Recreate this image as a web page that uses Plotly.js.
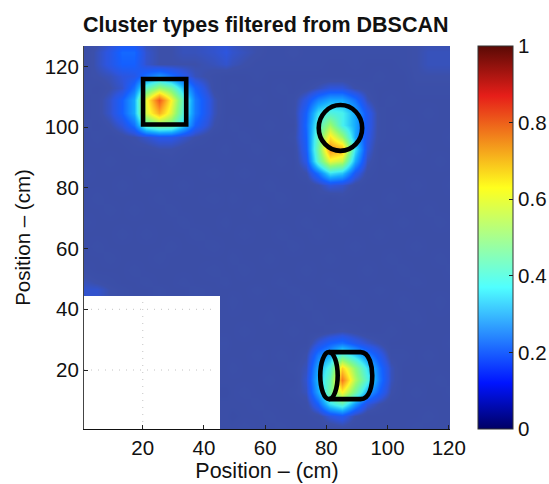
<!DOCTYPE html>
<html><head><meta charset="utf-8">
<script src="https://cdn.plot.ly/plotly-3.0.1.min.js"></script>
<style>html,body{margin:0;padding:0;background:#fff}</style></head>
<body><div id="chart" style="width:549px;height:484px"></div>
<script>
const N = null;
const positionX = [1.2,5.2,9.2,13.2,17.2,21.2,25.2,29.2,33.2,37.2,43.2,47.2,49.2,53.2,57.2,61.2,65.2,69.2,73.2,77.2,81.2,85.2,89.2,93.2,97.2,101.2,105.2,109.2,113.2,117.2,121.2];
const positionY = [0.8,4.8,8.8,12.8,16.8,20.8,24.8,28.8,32.8,36.8,42.8,46.8,48.8,52.8,56.8,60.8,64.8,68.8,72.8,76.8,80.8,84.8,88.8,92.8,96.8,100.8,104.8,108.8,112.8,116.8,120.8,124.8,128.8];
const densityPct = [
[N,N,N,N,N,N,N,N,N,N,N,13,13,14,13,13,14,13,13,13,13,14,13,13,13,13,13,14,13,13,13],
[N,N,N,N,N,N,N,N,N,N,N,13,12,13,13,14,13,13,13,14,18,20,15,13,13,13,13,13,14,13,13],
[N,N,N,N,N,N,N,N,N,N,N,13,13,13,14,13,13,13,14,22,36,42,28,18,15,13,13,13,13,13,13],
[N,N,N,N,N,N,N,N,N,N,N,12,13,14,13,13,13,14,16,30,46,62,46,30,22,15,13,14,13,13,14],
[N,N,N,N,N,N,N,N,N,N,N,13,13,13,13,14,13,13,17,32,44,76,54,40,25,16,13,13,13,14,13],
[N,N,N,N,N,N,N,N,N,N,N,13,14,13,13,13,13,14,16,30,40,66,50,36,24,16,13,13,13,13,13],
[N,N,N,N,N,N,N,N,N,N,N,13,13,13,14,13,14,13,15,25,30,42,34,26,20,14,14,13,14,13,13],
[N,N,N,N,N,N,N,N,N,N,N,14,13,13,13,13,13,13,13,18,22,24,20,17,15,13,13,13,13,13,14],
[N,N,N,N,N,N,N,N,N,N,N,13,13,14,13,13,13,14,13,13,14,15,14,13,13,14,13,13,13,13,13],
[N,N,N,N,N,N,N,N,N,N,N,13,13,13,13,14,13,13,13,14,13,13,13,13,13,13,13,14,13,13,13],
[N,N,N,N,N,N,N,N,N,N,N,13,14,13,13,13,13,13,14,13,13,13,14,13,13,13,14,13,13,14,13],
[17,17,15,14,13,13,14,13,13,14,13,13,13,13,14,13,13,14,13,13,13,14,13,13,14,13,13,13,13,13,13],
[16,15,14,13,13,14,13,13,14,13,13,14,13,13,13,13,14,13,13,13,14,13,13,13,13,13,13,14,13,13,13],
[14,13,13,13,14,13,13,13,13,13,14,13,13,14,13,13,13,13,14,13,13,13,13,14,13,13,14,13,13,13,14],
[13,13,14,13,13,13,14,13,13,13,13,13,14,13,13,14,13,13,13,13,14,13,13,13,13,14,13,13,13,14,13],
[13,14,13,13,13,13,13,14,13,13,14,13,13,13,13,13,13,14,13,13,13,13,14,13,13,13,13,14,13,13,13],
[13,13,13,14,13,14,13,13,13,14,13,13,13,14,13,13,14,13,13,14,13,13,13,13,14,13,13,13,13,13,13],
[14,13,13,13,13,13,13,13,14,13,13,14,13,13,13,13,13,13,14,13,13,14,13,13,13,13,14,13,13,14,13],
[13,13,14,13,14,13,13,14,13,13,13,13,13,13,14,13,13,13,13,13,13,13,13,14,13,13,13,13,14,13,13],
[13,14,13,13,13,13,14,13,13,13,14,13,14,13,13,13,14,13,13,14,13,14,13,13,13,14,13,13,13,13,13],
[13,13,13,14,13,13,13,13,14,13,13,13,13,13,13,14,13,13,13,15,18,17,14,13,13,13,13,14,13,13,14],
[14,13,13,13,13,14,13,13,13,13,14,13,13,14,13,13,13,13,15,24,36,33,20,14,13,13,13,13,13,13,13],
[13,13,14,13,13,13,13,14,13,13,13,13,13,13,13,13,14,13,19,42,60,56,30,16,13,14,13,13,13,14,13],
[13,13,13,13,14,14,15,15,14,13,13,14,13,13,14,13,13,13,21,46,74,70,36,18,13,13,13,14,13,13,13],
[13,14,13,14,15,17,19,19,17,15,13,13,13,14,13,13,13,14,22,44,64,52,30,19,14,13,13,13,13,13,14],
[14,13,15,18,24,42,48,46,34,22,15,13,14,13,13,14,13,13,23,40,52,38,30,20,14,13,14,13,13,13,13],
[13,14,17,22,30,58,70,58,40,25,16,13,13,13,13,13,13,14,22,36,40,38,30,20,14,13,13,13,14,13,13],
[13,14,17,22,30,60,80,62,42,25,16,13,13,13,14,13,13,14,19,26,30,30,24,16,13,14,13,13,13,13,13],
[14,13,15,17,24,42,52,46,32,22,14,13,14,13,13,13,14,13,14,16,18,18,15,14,13,13,13,14,14,14,14],
[14,15,16,18,19,24,28,24,20,16,14,13,13,13,14,13,13,13,13,13,13,13,13,13,14,13,13,15,15,15,15],
[13,16,19,22,22,17,15,15,15,15,16,17,16,15,14,14,14,14,14,14,13,13,14,13,13,13,14,15,16,16,16],
[13,16,19,23,23,17,15,15,16,16,17,18,17,16,15,14,14,15,14,14,14,14,14,14,14,14,14,15,16,16,16],
[13,14,16,18,18,15,15,15,16,16,17,17,16,15,15,14,14,14,14,14,14,14,14,14,14,14,14,15,15,15,15]
];
const tickValues = [20,40,60,80,100,120];
const yTickValues = [20,40,60,80,100,120];
const barTicks = [0,0.2,0.4,0.6,0.8,1];
const barLabels = ['0','0.2','0.4','0.6','0.8','1'];
const titleText = 'Cluster types filtered from DBSCAN';
const axisTitle = 'Position \u2013 (cm)';

const density = densityPct.map(r => r.map(v => v === null ? null : v / 100));
const fieldScale = [[0,'rgb(50,65,150)'],[0.15,'rgb(60,80,170)'],[0.18,'rgb(45,85,222)'],[0.22,'rgb(20,95,255)'],[0.3,'rgb(20,170,255)'],[0.375,'rgb(70,240,240)'],[0.5,'rgb(140,250,120)'],[0.62,'rgb(255,245,40)'],[0.75,'rgb(250,130,30)'],[0.88,'rgb(225,30,30)'],[1,'rgb(100,0,0)']];
const barScale = [[0,'rgb(0,0,100)'],[0.12,'rgb(0,20,255)'],[0.37,'rgb(80,255,255)'],[0.63,'rgb(255,255,30)'],[0.87,'rgb(230,30,25)'],[1,'rgb(90,10,5)']];
const font = 'Liberation Sans, Arial, sans-serif';

const traces = [
 {type:'heatmap',x:positionX,y:positionY,z:density,zmin:0,zmax:1,zsmooth:'best',colorscale:fieldScale,showscale:false,hoverinfo:'skip'},
 {type:'heatmap',x:[-50,-49],y:[-50,-49],z:[[0,1],[1,0]],zmin:0,zmax:1,colorscale:barScale,showscale:true,hoverinfo:'skip',
  colorbar:{x:1.0757,xanchor:'left',xpad:0,y:0,yanchor:'bottom',ypad:0,len:1,lenmode:'fraction',thickness:35,thicknessmode:'pixels',
    outlinewidth:1,outlinecolor:'#333',ticks:'inside',ticklen:4,tickcolor:'#222',tickvals:barTicks,ticktext:barLabels,tickfont:{family:font,size:20.5,color:'#111'}}}
];
const blk = {color:'#000',width:4.6};
const dots = {color:'#c4c4c4',width:1,dash:'1px,6px'};
const layout = {
 width:549,height:484,autosize:false,paper_bgcolor:'#fff',plot_bgcolor:'#fff',
 margin:{l:84.3,r:98.7,t:46,b:55,pad:0,autoexpand:false},
 title:{text:'<b>'+titleText+'</b>',font:{family:font,size:21.5,color:'#111'},x:0.484,xanchor:'center',y:0.95,yanchor:'middle'},
 xaxis:{range:[0.8,120.4],tickvals:tickValues,ticks:'inside',ticklen:4,tickcolor:'#222',showgrid:false,zeroline:false,showline:true,linecolor:'#111',linewidth:1,
   tickfont:{family:font,size:20.5,color:'#111'},title:{text:axisTitle,font:{family:font,size:21.5,color:'#111'},standoff:0}},
 yaxis:{range:[0.56,126.75],tickvals:yTickValues,ticks:'inside',ticklen:4,tickcolor:'#222',showgrid:false,zeroline:false,showline:true,linecolor:'#444',linewidth:1,
   tickfont:{family:font,size:20.5,color:'#111'},title:{text:axisTitle,font:{family:font,size:20.5,color:'#111'},standoff:8}},
 shapes:[
  {type:'line',layer:'below',x0:20,x1:20,y0:0.56,y1:44.8,line:dots},
  {type:'line',layer:'below',x0:0.8,x1:43,y0:20,y1:20,line:dots},
  {type:'line',layer:'below',x0:0.8,x1:43,y0:40,y1:40,line:dots},
  {type:'rect',x0:20.1,x1:34.2,y0:100.9,y1:115.9,line:blk},
  {type:'circle',x0:77.5,x1:91.7,y0:92.2,y1:107.3,line:blk},
  {type:'circle',x0:78,x1:83.7,y0:10.4,y1:25.9,line:blk},
  {type:'path',path:'M 80.85 25.9 L 91.2 25.9 C 94.2 25.9, 95 21, 95 18.15 C 95 15, 94.2 10.4, 91.2 10.4 L 80.85 10.4',line:blk}
 ]
};
Plotly.newPlot('chart',traces,layout,{staticPlot:true,displayModeBar:false});
</script></body></html>
